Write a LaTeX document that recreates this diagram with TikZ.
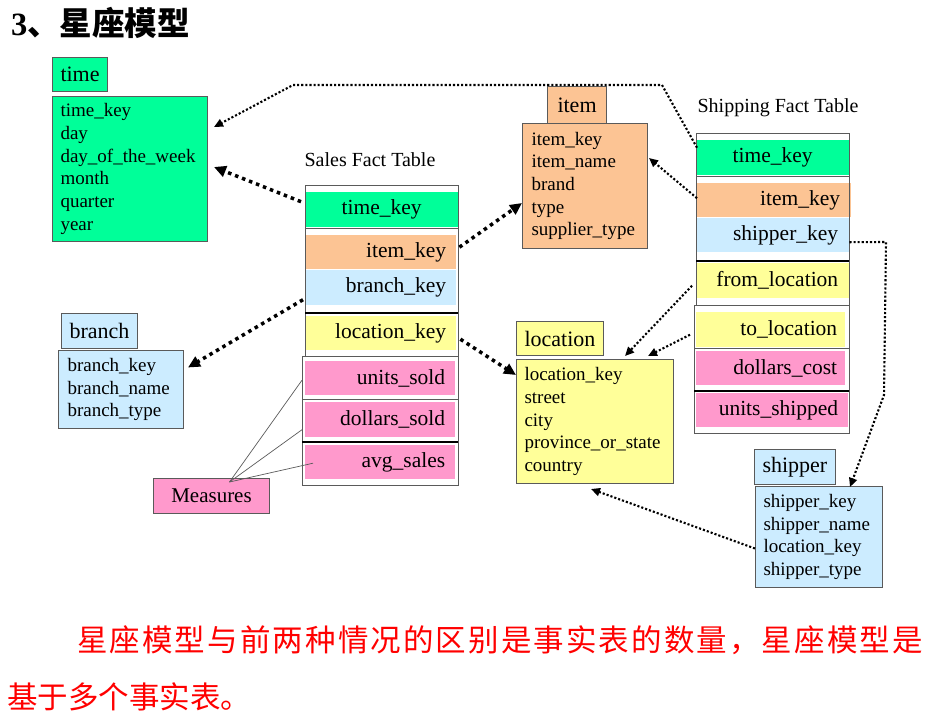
\documentclass[tikz,border=0pt]{standalone}
\usepackage{fontspec}
\setmainfont{Liberation Serif}
\newfontfamily\cjkfont{Noto Sans CJK SC}
\newfontfamily\cjkwide{Noto Sans CJK SC}[LetterSpace=6.9]
\usetikzlibrary{arrows.meta}

\definecolor{keygreen}{RGB}{0,255,153}
\definecolor{keyorange}{RGB}{252,196,148}
\definecolor{keyblue}{RGB}{204,236,255}
\definecolor{keyyellow}{RGB}{255,255,153}
\definecolor{keypink}{RGB}{255,153,204}
\definecolor{framegray}{RGB}{90,90,90}

\tikzset{
  dimhead/.style={draw=framegray, line width=1pt, anchor=north west, inner xsep=8pt, inner ysep=0pt,
    font=\fontsize{22}{26}\selectfont},
  dimbody/.style={draw=framegray, line width=1pt, anchor=north west, inner xsep=8pt, inner ysep=0pt,
    align=left, font=\fontsize{19}{22.7}\selectfont},
  factrow/.style={anchor=north west, inner xsep=10pt, inner ysep=0pt, align=right,
    font=\fontsize{21.5}{24}\selectfont},
  factbox/.style={draw=framegray, line width=1pt},
  factsep/.style={draw=black, line width=1.4pt},
  fkthick/.style={line width=3.5pt, dash pattern=on 3.5pt off 4pt, -{Triangle[length=12pt,width=11pt]}},
  fkthin/.style={line width=2.1pt, dash pattern=on 2.1pt off 2pt, -{Triangle[length=9pt,width=8pt]}},
  measline/.style={draw=framegray, line width=0.7pt},
}

\begin{document}
\begin{tikzpicture}[x=1pt,y=-1pt]
    \useasboundingbox (0,0) rectangle (950,721);

    % Heading
    \node[anchor=west, inner sep=0pt] (heading) at (11,23)
        {\fontsize{32.5}{32.5}\selectfont\bfseries 3{\cjkfont 、星座模型}};

    % Dimension tables
    \node[dimhead, fill=keygreen, minimum height=34pt] (time-head) at (52,57) {time};
    \node[dimbody, fill=keygreen, text width=139pt, minimum height=145pt] (time-body) at (52,96)
        {time\_key\\day\\day\_of\_the\_week\\month\\quarter\\year};

    \node[dimhead, fill=keyorange, minimum height=37pt, inner xsep=10pt] (item-head) at (547,86) {item};
    \node[dimbody, fill=keyorange, text width=107pt, minimum height=125pt, inner xsep=9pt] (item-body) at (522,123)
        {item\_key\\item\_name\\brand\\type\\supplier\_type};

    \node[dimhead, fill=keyblue, minimum height=35pt] (branch-head) at (61,313) {branch};
    \node[dimbody, fill=keyblue, text width=107pt, minimum height=78pt, inner xsep=9pt] (branch-body) at (58,350)
        {branch\_key\\branch\_name\\branch\_type};

    \node[dimhead, fill=keyyellow, minimum height=34pt] (loc-head) at (516,321) {location};
    \node[dimbody, fill=keyyellow, text width=141pt, minimum height=124pt] (loc-body) at (516,359)
        {location\_key\\street\\city\\province\_or\_state\\country};

    \node[dimhead, fill=keyblue, minimum height=35pt] (shipper-head) at (754,449) {shipper};
    \node[dimbody, fill=keyblue, text width=111pt, minimum height=101pt] (shipper-body) at (755,486)
        {shipper\_key\\shipper\_name\\location\_key\\shipper\_type};

    % Sales fact table
    \node[font=\fontsize{20}{24}\selectfont] (sales-title) at (370,160) {Sales Fact Table};
    \node[factrow, fill=keygreen, text width=133pt, minimum height=35pt, align=center] (s-time) at (305,192) {time\_key};
    \node[factrow, fill=keyorange, text width=131pt, minimum height=34pt] (s-item) at (305,235) {item\_key};
    \node[factrow, fill=keyblue, text width=131pt, minimum height=35pt] (s-branch) at (305,270) {branch\_key};
    \node[factrow, fill=keyyellow, text width=131pt, minimum height=34pt] (s-loc) at (305,316) {location\_key};
    \node[factrow, fill=keypink, text width=130pt, minimum height=34pt] (s-units) at (305,361) {units\_sold};
    \node[factrow, fill=keypink, text width=130pt, minimum height=35pt] (s-dollars) at (305,402) {dollars\_sold};
    \node[factrow, fill=keypink, text width=130pt, minimum height=34pt] (s-avg) at (305,445) {avg\_sales};
    \draw[factbox] (305,185) rectangle (458,228);
    \draw[factbox] (305,228) rectangle (458,313);
    \draw[factbox] (305,313) rectangle (458,356);
    \draw[factbox] (302,356) rectangle (458,485);
    \draw[factbox] (302,399) -- (458,399);
    \draw[factsep] (305,313) -- (458,313);
    \draw[factsep] (302,442) -- (458,442);

    % Shipping fact table
    \node[font=\fontsize{20}{24}\selectfont] (ship-title) at (778,108) {Shipping Fact Table};
    \node[factrow, fill=keygreen, text width=133pt, minimum height=35pt, align=center] (sh-time) at (696,140) {time\_key};
    \node[factrow, fill=keyorange, text width=133pt, minimum height=34pt, inner xsep=11pt] (sh-item) at (696,183) {item\_key};
    \node[factrow, fill=keyblue, text width=131pt, minimum height=34pt, inner xsep=11pt] (sh-shipper) at (696,218) {shipper\_key};
    \node[factrow, fill=keyyellow, text width=131pt, minimum height=35pt, inner xsep=11pt] (sh-from) at (696,263) {from\_location};
    \node[factrow, fill=keyyellow, text width=133pt, minimum height=35pt, inner xsep=8pt] (sh-to) at (696,312) {to\_location};
    \node[factrow, fill=keypink, text width=133pt, minimum height=34pt, inner xsep=8pt] (sh-dollars) at (696,351) {dollars\_cost};
    \node[factrow, fill=keypink, text width=132pt, minimum height=34pt] (sh-units) at (696,393) {units\_shipped};
    \draw[factbox] (696,133) rectangle (849,176);
    \draw[factbox] (696,176) rectangle (849,261);
    \draw[factbox] (696,261) rectangle (849,305);
    \draw[factbox] (694,305) rectangle (849,433);
    \draw[factbox] (694,348) -- (849,348);
    \draw[factsep] (696,261) -- (849,261);
    \draw[factsep] (694,391) -- (849,391);

    % Measures
    \node[draw=framegray, line width=1pt, fill=keypink, anchor=north west, minimum width=116pt, minimum height=35pt,
        inner sep=0pt, font=\fontsize{21}{24}\selectfont] (measures) at (153,478) {Measures};
    \coordinate (mjoin) at ([xshift=18pt,yshift=-4pt]measures.north);
    \draw[measline] (mjoin) -- ([xshift=-3pt,yshift=-2pt]s-units.west);
    \draw[measline] (mjoin) -- ([xshift=-3pt,yshift=-10pt]s-dollars.west);
    \draw[measline] (mjoin) -- ([xshift=8pt,yshift=-1pt]s-avg.west);

    % Sales keys
    \draw[fkthick] ([xshift=-4pt,yshift=8pt]s-time.west) -- ([xshift=6pt,yshift=2pt]time-body.east);
    \draw[fkthick] ([xshift=3pt,yshift=5pt]s-item.east) -- ([yshift=-17pt]item-body.west);
    \draw[fkthick] ([xshift=-2pt,yshift=-12pt]s-branch.west) -- ([xshift=4pt,yshift=22pt]branch-body.east);
    \draw[fkthick] ([xshift=4pt,yshift=-6pt]s-loc.east) -- ([yshift=-16pt]loc-body.north west);

    % Shipping keys
    \draw[fkthin] ([xshift=1pt,yshift=10pt]sh-time.west) -- (662,85) -- (293,85)
        -- ([xshift=6pt,yshift=42pt]time-body.east);
    \draw[fkthin] ([xshift=1pt,yshift=2pt]sh-item.west) -- ([xshift=1pt,yshift=28pt]item-body.east);
    \draw[fkthin] ([yshift=-7pt]sh-shipper.east) -- (886,242) -- (884,395)
        -- ([xshift=31pt,yshift=-1pt]shipper-body.north);
    \draw[fkthin] ([xshift=-4pt,yshift=-5pt]sh-from.west) -- ([xshift=30pt,yshift=3pt]loc-body.north);
    \draw[fkthin] ([xshift=-6pt,yshift=-5pt]sh-to.west) -- ([xshift=53pt,yshift=3pt]loc-body.north);
    \draw[fkthin] ([yshift=-11.5pt]shipper-body.west) -- ([xshift=-4pt,yshift=-5pt]loc-body.south);

    % Note
    \node[anchor=west, inner sep=0pt, text=red] (note1) at (77,640)
        {\cjkwide\fontsize{30.5}{30.5}\selectfont 星座模型与前两种情况的区别是事实表的数量，星座模型是};
    \node[anchor=west, inner sep=0pt, text=red] (note2) at (7,697)
        {\cjkfont\fontsize{30.5}{30.5}\selectfont 基于多个事实表。};
\end{tikzpicture}
\end{document}
